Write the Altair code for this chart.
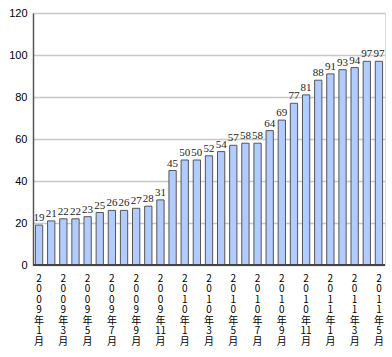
import altair as alt
import pandas as pd

months = ["2009年1月", "2009年2月", "2009年3月", "2009年4月", "2009年5月", "2009年6月",
          "2009年7月", "2009年8月", "2009年9月", "2009年10月", "2009年11月", "2009年12月",
          "2010年1月", "2010年2月", "2010年3月", "2010年4月", "2010年5月", "2010年6月",
          "2010年7月", "2010年8月", "2010年9月", "2010年10月", "2010年11月", "2010年12月",
          "2011年1月", "2011年2月", "2011年3月", "2011年4月", "2011年5月"]
values = [19, 21, 22, 22, 23, 25, 26, 26, 27, 28, 31, 45, 50, 50, 52, 54, 57, 58,
          58, 64, 69, 77, 81, 88, 91, 93, 94, 97, 97]
y_ticks = [0, 20, 40, 60, 80, 100, 120]

df = pd.DataFrame({"month": months, "value": values})

label_expr = (
    "parseInt(slice(datum.value, 5, -1)) % 2 == 1 ? "
    "[slice(datum.value, 0, 1), slice(datum.value, 1, 2), slice(datum.value, 2, 3), "
    "slice(datum.value, 3, 4), '年', slice(datum.value, 5, -1), '月'] : ''"
)

x = alt.X("month:N", sort=months, title=None,
          scale=alt.Scale(paddingInner=0.4, paddingOuter=0.2),
          axis=alt.Axis(labelAngle=0, ticks=False, domain=False,
                        labelExpr=label_expr,
                        labelFont="Noto Sans CJK JP", labelFontSize=10, labelLineHeight=10.5,
                        labelColor="#000", labelPadding=8, labelBaseline="top"))
y = alt.Y("value:Q", title=None,
          scale=alt.Scale(domain=[0, 120], nice=False),
          axis=alt.Axis(values=y_ticks, ticks=False, domainColor="#555", domainWidth=1.5,
                        gridColor="#c8c8c8", gridWidth=1.5, labelFont="Liberation Sans",
                        labelFontSize=11, labelColor="#000", labelPadding=6))

bars = alt.Chart(df).mark_bar(color="#b3ccff", stroke="#555", strokeWidth=1).encode(x=x, y=y)
text = alt.Chart(df).mark_text(baseline="bottom", dy=-2, font="Liberation Sans Narrow",
                               fontSize=11, color="#222").encode(
    x=alt.X("month:N", sort=months), y="value:Q", text="value:Q")
base = alt.Chart(df).mark_rule(color="#444", strokeWidth=1.5).encode(y=alt.datum(0))

chart = alt.layer(bars, text, base).properties(
    width=352, height=252,
    autosize=alt.AutoSizeParams(type="none"),
    padding={"left": 33, "top": 13, "right": 7, "bottom": 92},
).configure_view(stroke="#555", strokeWidth=1.5).configure(background="white")

chart.save("out.html", embed_options={"renderer": "svg", "actions": False})
